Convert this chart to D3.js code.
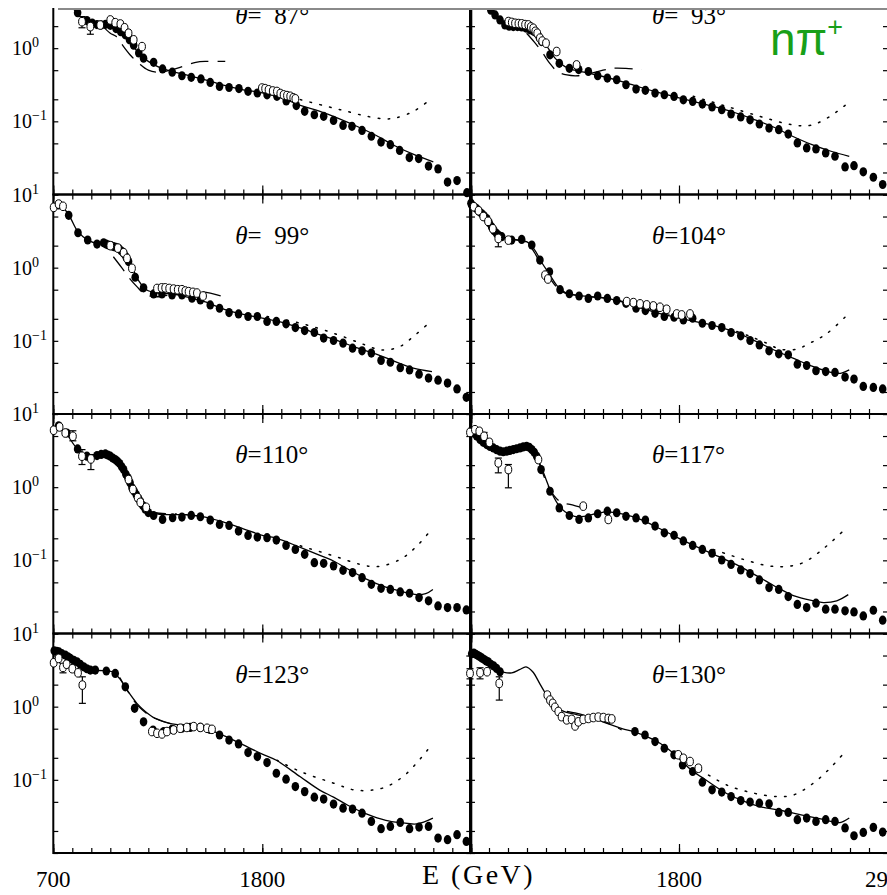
<!DOCTYPE html>
<html>
<head>
<meta charset="utf-8">
<script src="https://cdn.jsdelivr.net/npm/d3@7"></script>
<style>
  html, body { margin: 0; padding: 0; background: #fff; }
  svg { display: block; }
</style>
</head>
<body>
<svg id="chart" width="887" height="895"></svg>
<script>
// Differential cross sections for gamma p -> n pi+ at backward angles,
// eight angular bins, log y scale, photon energy on x.

const angles = [87, 93, 99, 104, 110, 117, 123, 130];
const yTickValues = [0.01, 0.02, 0.05, 0.1, 0.2, 0.5, 1, 2, 5, 10];
const yLabelValues = [10, 1, 0.1];
const yLabelExp = ["1", "0", "\u22121"];
const xMinorTicks = d3.range(700, 2901, 100);
const xMajorTicks = [700, 1800, 2900];
const xLabelsLeft = [700, 1800];
const xLabelsRight = [1800, 2900];

// ---- theta = 87 ----
const filled87 = [[760,5.0],[790,4.0],[828,3.05],[877,2.38],[905,2.2],[930,2.1],[952,2.08],[975,2.12],[1000,2.05],[1030,1.85],[1055,1.68],[1079,1.52],[1101,1.3],[1123,1.1],[1150,0.86],[1175,0.73],[1228,0.64],[1275,0.52],[1326,0.47],[1377,0.42],[1426,0.40],[1477,0.38],[1526,0.34],[1575,0.30],[1625,0.29],[1677,0.28],[1725,0.257],[1774,0.244],[1825,0.23],[1877,0.22],[1926,0.19],[1979,0.164],[2023,0.137],[2074,0.123],[2123,0.117],[2175,0.103],[2225,0.088],[2272,0.0855],[2325,0.075],[2374,0.0625],[2425,0.052],[2474,0.048],[2523,0.040],[2574,0.032],[2623,0.031],[2675,0.0245],[2725,0.0224],[2775,0.0148],[2825,0.0155],[2877,0.0106]];
const open87 = [[851,2.3,1.9,2.7],[895,1.97,1.55,2.3],[947,2.07],[1000,2.43],[1026,2.23],[1053,2.14],[1075,1.9],[1096,1.6],[1123,1.3],[1167,1.05],[1798,0.285],[1815,0.28],[1833,0.27],[1855,0.26],[1877,0.256],[1895,0.24],[1912,0.23],[1930,0.225],[1947,0.22],[1963,0.21],[1974,0.203]];
const solid87 = [[780,4.5],[800,3.6],[850,2.6],[900,2.2],[950,2.05],[1000,1.95],[1050,1.7],[1100,1.25],[1150,0.85],[1200,0.66],[1250,0.56],[1300,0.5],[1400,0.43],[1500,0.37],[1600,0.31],[1700,0.27],[1800,0.245],[1900,0.21],[2000,0.165],[2100,0.138],[2200,0.11],[2300,0.085],[2400,0.064],[2500,0.046],[2600,0.035],[2700,0.028]];
const dashed87 = [[960,2.0],[1000,1.6],[1030,1.45],[1070,1.05],[1110,0.78],[1150,0.62],[1200,0.5],[1260,0.47],[1350,0.53],[1450,0.64],[1510,0.66],[1605,0.66]];
const dotted87 = [[2000,0.198],[2139,0.16],[2245,0.137],[2351,0.117],[2447,0.108],[2500,0.111],[2596,0.137],[2684,0.198]];

// ---- theta = 93 ----
const filled93 = [[770,4.5],[810,3.3],[832,2.85],[858,2.43],[884,2.08],[906,2.0],[928,1.97],[950,1.97],[972,1.95],[995,1.88],[1016,1.78],[1035,1.7],[1051,1.6],[1064,1.42],[1077,1.23],[1121,0.81],[1170,0.62],[1223,0.53],[1272,0.51],[1323,0.48],[1372,0.42],[1423,0.39],[1472,0.37],[1521,0.316],[1574,0.276],[1623,0.265],[1674,0.243],[1723,0.231],[1774,0.219],[1823,0.197],[1872,0.187],[1923,0.172],[1974,0.157],[2025,0.144],[2074,0.126],[2125,0.115],[2174,0.105],[2223,0.092],[2274,0.081],[2325,0.077],[2375,0.067],[2423,0.0507],[2472,0.0433],[2521,0.042],[2572,0.037],[2621,0.0333],[2674,0.0238],[2721,0.0248],[2770,0.0204],[2823,0.0172],[2872,0.0137]];
const open93 = [[902,2.31],[920,2.25],[937,2.19],[955,2.17],[972,2.15],[990,2.1],[1007,2.08],[1020,1.95],[1033,1.87],[1044,1.7],[1054,1.6],[1068,1.37],[1080,1.25],[1100,1.17],[1156,0.9],[1261,0.59]];
const solid93 = [[780,4.2],[810,3.3],[860,2.5],[900,2.15],[950,2.0],[1000,1.85],[1050,1.55],[1100,1.1],[1150,0.72],[1200,0.56],[1250,0.5],[1300,0.47],[1400,0.41],[1500,0.35],[1600,0.29],[1700,0.245],[1800,0.21],[1900,0.18],[2000,0.155],[2100,0.13],[2200,0.105],[2300,0.083],[2400,0.062],[2500,0.048],[2600,0.039],[2696,0.0333]];
const dashed93 = [[998,1.6],[1040,1.2],[1080,0.88],[1120,0.62],[1160,0.48],[1210,0.43],[1270,0.42],[1330,0.45],[1400,0.5],[1450,0.53],[1520,0.53],[1604,0.51]];
const dotted93 = [[1875,0.22],[2051,0.16],[2226,0.117],[2349,0.095],[2437,0.087],[2507,0.09],[2595,0.117],[2679,0.169]];

// ---- theta = 99 ----
const filled99 = [[728,7.2],[781,5.2],[830,3.0],[881,2.39],[930,2.1],[965,2.19],[978,2.1],[990,2.04],[1004,2.0],[1017,1.94],[1030,1.9],[1044,1.84],[1057,1.7],[1070,1.57],[1083,1.4],[1096,1.21],[1131,0.74],[1175,0.53],[1228,0.437],[1272,0.437],[1325,0.424],[1377,0.424],[1430,0.382],[1474,0.362],[1526,0.31],[1575,0.279],[1625,0.243],[1675,0.233],[1725,0.215],[1774,0.215],[1825,0.184],[1874,0.184],[1925,0.171],[1974,0.152],[2023,0.138],[2074,0.13],[2123,0.109],[2175,0.101],[2225,0.093],[2275,0.0794],[2325,0.073],[2374,0.068],[2425,0.054],[2474,0.051],[2526,0.043],[2575,0.040],[2625,0.035],[2675,0.031],[2725,0.029],[2775,0.0265],[2825,0.022],[2874,0.0169]];
const open99 = [[702,6.67],[728,7.4],[751,6.9],[1000,2.0],[1040,1.85],[1070,1.6],[1088,1.34],[1114,0.98],[1246,0.52],[1270,0.53],[1289,0.53],[1310,0.52],[1333,0.51],[1355,0.5],[1377,0.5],[1395,0.48],[1412,0.47],[1435,0.46],[1456,0.45],[1488,0.41]];
const solid99 = [[700,7.0],[730,7.2],[760,6.3],[790,4.8],[830,3.1],[880,2.4],[930,2.15],[980,2.1],[1030,1.95],[1060,1.75],[1090,1.35],[1120,0.95],[1150,0.66],[1190,0.5],[1250,0.45],[1320,0.44],[1400,0.4],[1500,0.34],[1600,0.27],[1700,0.23],[1800,0.205],[1900,0.18],[2000,0.15],[2100,0.122],[2200,0.1],[2300,0.08],[2400,0.066],[2500,0.052],[2600,0.042],[2693,0.038]];
const dashed99 = [[1016,1.41],[1060,1.0],[1100,0.72],[1140,0.55],[1180,0.44],[1230,0.4],[1300,0.42],[1400,0.45],[1480,0.47],[1614,0.39]];
const dotted99 = [[1825,0.215],[2000,0.174],[2175,0.127],[2316,0.093],[2404,0.077],[2456,0.075],[2526,0.084],[2596,0.115],[2666,0.165]];

// ---- theta = 104 ----
const filled104 = [[705,7.6],[709,7.2],[722,6.8],[735,6.4],[748,5.9],[761,5.5],[775,5.1],[788,4.7],[801,4.1],[814,3.6],[827,3.2],[840,2.94],[853,2.75],[867,2.65],[919,2.38],[972,2.43],[1025,2.04],[1068,1.27],[1118,0.88],[1174,0.5],[1223,0.44],[1274,0.41],[1323,0.38],[1372,0.41],[1423,0.38],[1472,0.355],[1521,0.326],[1574,0.279],[1623,0.259],[1674,0.238],[1723,0.215],[1774,0.21],[1823,0.193],[1872,0.204],[1923,0.174],[1974,0.162],[2025,0.152],[2074,0.13],[2125,0.117],[2174,0.101],[2223,0.088],[2274,0.073],[2325,0.0665],[2375,0.0644],[2423,0.048],[2472,0.046],[2521,0.039],[2572,0.038],[2621,0.037],[2674,0.032],[2721,0.030],[2770,0.0238],[2823,0.0231],[2872,0.022]];
const open104 = [[720,6.8],[745,6.0],[770,5.0],[795,4.3],[820,3.4],[849,2.51,1.93,2.94],[902,2.38],[1095,0.79],[1110,0.7],[1525,0.344],[1560,0.333],[1595,0.32],[1630,0.31],[1665,0.30],[1700,0.288],[1735,0.27],[1788,0.233],[1814,0.226],[1858,0.233]];
const solid104 = [[705,7.5],[740,6.3],[780,4.9],[820,3.4],[860,2.7],[900,2.45],[950,2.4],[1000,2.25],[1040,1.75],[1080,1.15],[1120,0.8],[1160,0.56],[1200,0.46],[1260,0.42],[1330,0.4],[1400,0.39],[1500,0.34],[1600,0.28],[1700,0.235],[1800,0.205],[1900,0.18],[2000,0.158],[2100,0.13],[2200,0.1],[2300,0.075],[2400,0.058],[2500,0.045],[2600,0.037],[2650,0.036],[2696,0.040]];
const dashed104 = [[900,2.5],[960,2.35],[1000,2.2],[1040,1.6],[1080,1.02],[1120,0.72],[1160,0.53],[1200,0.45],[1260,0.42],[1350,0.4],[1450,0.37],[1550,0.32],[1650,0.27],[1750,0.23]];
const dotted104 = [[2104,0.134],[2174,0.115],[2261,0.093],[2332,0.077],[2419,0.077],[2489,0.093],[2577,0.125],[2691,0.233]];

// ---- theta = 110 ----
const filled110 = [[728,6.9],[772,5.5],[828,3.33],[877,2.65],[930,2.7],[952,2.8],[974,2.85],[987,2.75],[1000,2.65],[1013,2.5],[1026,2.38],[1038,2.25],[1049,2.1],[1060,1.9],[1070,1.74],[1082,1.5],[1093,1.34],[1104,1.15],[1114,0.98],[1126,0.88],[1137,0.79],[1148,0.7],[1158,0.64],[1171,0.56],[1184,0.5],[1200,0.45],[1228,0.41],[1275,0.362],[1328,0.382],[1377,0.39],[1426,0.411],[1474,0.394],[1526,0.355],[1575,0.31],[1625,0.30],[1675,0.251],[1725,0.219],[1774,0.208],[1825,0.204],[1874,0.189],[1925,0.16],[1974,0.141],[2023,0.121],[2074,0.093],[2123,0.091],[2175,0.084],[2225,0.073],[2275,0.068],[2325,0.058],[2374,0.047],[2425,0.0415],[2474,0.040],[2526,0.037],[2575,0.0355],[2625,0.031],[2675,0.028],[2725,0.0238],[2775,0.0226],[2825,0.0226],[2874,0.021]];
const open110 = [[702,6.0],[733,6.65],[763,5.5],[803,4.96,4.3,5.9],[851,2.65,2.04,3.26],[898,2.43,1.74,2.79],[1096,1.27],[1119,0.93],[1144,0.72],[1158,0.62],[1189,0.53]];
const solid110 = [[700,6.3],[730,6.6],[770,5.3],[820,3.5],[870,2.8],[930,2.75],[980,2.8],[1020,2.45],[1050,2.05],[1080,1.5],[1110,1.05],[1140,0.76],[1170,0.57],[1200,0.47],[1250,0.43],[1320,0.42],[1400,0.42],[1500,0.39],[1600,0.33],[1700,0.27],[1800,0.22],[1877,0.2],[2000,0.15],[2100,0.118],[2175,0.098],[2250,0.076],[2351,0.055],[2450,0.043],[2526,0.038],[2614,0.034],[2660,0.035],[2698,0.040]];
const dashed110 = [[1050,2.0],[1100,1.15],[1150,0.66],[1200,0.48],[1260,0.44],[1350,0.43]];
const dotted110 = [[2000,0.158],[2175,0.115],[2316,0.088],[2404,0.082],[2526,0.103],[2614,0.157],[2693,0.27]];

// ---- theta = 117 ----
const filled117 = [[705,5.8],[718,5.5],[735,5.0],[753,4.47],[770,4.1],[788,3.82],[805,3.6],[823,3.44],[840,3.25],[858,3.1],[875,3.05],[893,3.1],[910,3.18],[928,3.26],[945,3.35],[963,3.44],[980,3.55],[998,3.62],[1012,3.5],[1025,3.26],[1038,3.0],[1051,2.65],[1074,1.74],[1121,0.88],[1170,0.52],[1223,0.41],[1274,0.362],[1323,0.38],[1372,0.433],[1423,0.47],[1472,0.447],[1521,0.40],[1574,0.38],[1623,0.355],[1674,0.294],[1723,0.238],[1774,0.22],[1823,0.184],[1872,0.16],[1923,0.141],[1974,0.125],[2025,0.101],[2074,0.088],[2125,0.074],[2174,0.066],[2223,0.054],[2274,0.0424],[2325,0.040],[2375,0.032],[2423,0.025],[2472,0.0226],[2521,0.026],[2572,0.0215],[2621,0.0215],[2674,0.0204],[2721,0.0197],[2770,0.0174],[2823,0.0208],[2872,0.0152]];
const open117 = [[700,5.6],[726,6.1],[749,5.8],[774,4.96,4.5,5.6],[802,4.1],[849,2.15,1.57,2.5],[902,1.74,0.98,2.04],[1060,2.38],[1296,0.55],[1428,0.362]];
const solid117 = [[710,5.8],[760,4.6],[800,3.7],[850,3.15],[900,3.0],[950,3.2],[1000,3.4],[1030,3.1],[1060,2.3],[1090,1.5],[1120,0.95],[1160,0.6],[1200,0.46],[1250,0.4],[1300,0.4],[1370,0.44],[1420,0.46],[1500,0.43],[1600,0.36],[1700,0.27],[1800,0.2],[1900,0.15],[2000,0.115],[2100,0.088],[2226,0.058],[2300,0.045],[2402,0.033],[2507,0.028],[2560,0.0265],[2630,0.028],[2691,0.034]];
const dashed117 = [[1060,2.3],[1100,1.2],[1140,0.78],[1180,0.62],[1226,0.58],[1305,0.51]];
const dotted117 = [[1981,0.141],[2139,0.103],[2261,0.085],[2349,0.082],[2454,0.093],[2577,0.157],[2682,0.279]];

// ---- theta = 123 ----
const filled123 = [[705,5.8],[718,5.7],[730,5.6],[745,5.3],[763,5.07],[777,4.8],[790,4.57],[808,4.3],[825,4.1],[842,3.8],[860,3.5],[877,3.3],[895,3.16],[921,3.16],[979,3.07],[1026,2.85],[1079,1.87],[1128,0.95],[1175,0.62],[1225,0.48],[1281,0.457],[1325,0.49],[1377,0.507],[1421,0.52],[1474,0.52],[1523,0.49],[1575,0.41],[1625,0.35],[1675,0.31],[1725,0.236],[1774,0.208],[1825,0.172],[1874,0.123],[1925,0.102],[1974,0.081],[2023,0.069],[2074,0.058],[2123,0.0545],[2175,0.0466],[2225,0.041],[2275,0.0398],[2325,0.035],[2374,0.027],[2425,0.0215],[2474,0.0231],[2526,0.0262],[2575,0.0215],[2625,0.0226],[2675,0.0231],[2725,0.016],[2775,0.0152],[2825,0.0178],[2874,0.0144]];
const open123 = [[702,3.98],[728,4.57],[751,3.44,2.9,3.9],[770,3.8],[800,3.3],[830,2.9],[853,1.97,1.11,2.56],[1219,0.457],[1246,0.433],[1272,0.424],[1298,0.457],[1333,0.48],[1368,0.507],[1403,0.52],[1439,0.534],[1474,0.52],[1509,0.507],[1535,0.49]];
const solid123 = [[700,5.8],[740,5.0],[790,4.4],[840,3.7],[900,3.2],[960,3.1],[1010,3.0],[1050,2.4],[1088,1.69],[1140,1.11],[1184,0.86],[1237,0.69],[1325,0.58],[1400,0.55],[1500,0.5],[1600,0.4],[1700,0.3],[1800,0.225],[1874,0.185],[2000,0.11],[2100,0.073],[2175,0.058],[2250,0.045],[2351,0.034],[2450,0.028],[2530,0.026],[2614,0.025],[2698,0.030]];
const dashed123 = [[1050,2.5],[1100,1.5],[1150,1.0],[1200,0.78],[1237,0.69],[1325,0.58],[1400,0.55]];
const dotted123 = [[1877,0.185],[2000,0.13],[2175,0.09],[2281,0.073],[2368,0.072],[2456,0.081],[2561,0.123],[2684,0.285]];

// ---- theta = 130 ----
const filled130 = [[709,5.3],[720,5.4],[731,5.2],[742,5.0],[753,4.8],[764,4.6],[775,4.4],[786,4.2],[796,4.1],[810,3.8],[825,3.6],[840,3.33],[858,3.0],[1568,0.456],[1621,0.41],[1674,0.333],[1723,0.27],[1774,0.22],[1819,0.16],[1872,0.13],[1923,0.093],[1974,0.073],[2025,0.068],[2074,0.059],[2125,0.052],[2174,0.0496],[2223,0.048],[2274,0.047],[2325,0.0359],[2375,0.0359],[2423,0.0285],[2472,0.030],[2521,0.027],[2572,0.0285],[2621,0.027],[2674,0.022],[2721,0.0172],[2770,0.0191],[2823,0.0224],[2872,0.0193]];
const open130 = [[700,2.85,2.4,3.3],[753,2.91,2.4,3.4],[790,3.0],[854,2.08,1.23,2.56],[1107,1.44],[1121,1.23],[1135,1.11],[1147,0.98],[1165,0.86],[1182,0.73],[1209,0.66],[1235,0.67],[1253,0.545],[1270,0.62],[1296,0.67],[1323,0.69],[1349,0.71],[1375,0.72],[1402,0.71],[1428,0.69],[1446,0.68],[1796,0.22],[1823,0.197],[1858,0.178],[1902,0.144]];
const solid130 = [[720,5.3],[780,4.4],[840,3.3],[880,2.95],[920,2.9],[960,3.2],[995,3.5],[1030,3.0],[1070,2.0],[1110,1.35],[1150,1.0],[1200,0.85],[1260,0.78],[1330,0.72],[1400,0.62],[1500,0.5],[1560,0.456],[1630,0.39],[1700,0.316],[1780,0.22],[1860,0.14],[1940,0.1],[2051,0.065],[2150,0.05],[2226,0.043],[2320,0.039],[2402,0.035],[2500,0.031],[2577,0.028],[2647,0.026],[2696,0.030]];
const dashed130 = [[1100,1.45],[1150,1.05],[1200,0.88],[1253,0.82],[1350,0.7],[1450,0.56],[1498,0.48]];
const dotted130 = [[1911,0.137],[2051,0.085],[2191,0.066],[2314,0.059],[2402,0.062],[2507,0.09],[2595,0.144],[2682,0.256]];

const panels = [
  { theta: 87,  col: 0, row: 0, filled: filled87,  open: open87,  solid: solid87,  dashed: dashed87,  dotted: dotted87 },
  { theta: 93,  col: 1, row: 0, filled: filled93,  open: open93,  solid: solid93,  dashed: dashed93,  dotted: dotted93 },
  { theta: 99,  col: 0, row: 1, filled: filled99,  open: open99,  solid: solid99,  dashed: dashed99,  dotted: dotted99 },
  { theta: 104, col: 1, row: 1, filled: filled104, open: open104, solid: solid104, dashed: dashed104, dotted: dotted104 },
  { theta: 110, col: 0, row: 2, filled: filled110, open: open110, solid: solid110, dashed: dashed110, dotted: dotted110 },
  { theta: 117, col: 1, row: 2, filled: filled117, open: open117, solid: solid117, dashed: dashed117, dotted: dotted117 },
  { theta: 123, col: 0, row: 3, filled: filled123, open: open123, solid: solid123, dashed: dashed123, dotted: dotted123 },
  { theta: 130, col: 1, row: 3, filled: filled130, open: open130, solid: solid130, dashed: dashed130, dotted: dotted130 }
];

// ---- layout ----
const colX = [53.3, 470];
const plotW = 418;
const rowTop0 = -25;
const plotH = 219.5;
const serif = "'Liberation Serif', 'DejaVu Serif', serif";

const svg = d3.select("#chart");
const gAxes = svg.append("g");
const gData = svg.append("g");

panels.forEach(p => {
  const x0 = colX[p.col];
  const top = rowTop0 + p.row * plotH;
  const x = d3.scaleLinear().domain([700, 2900]).range([x0, x0 + plotW]);
  const y = d3.scaleLog().domain([0.01, 10]).range([top + plotH, top]);

  // ticks (inward) on all four sides
  const tickStyle = g => {
    g.select(".domain").remove();
    g.selectAll("line").attr("stroke", "#000").attr("stroke-width", 1.2);
  };
  gAxes.append("g").attr("transform", `translate(${x0},0)`)
    .call(d3.axisRight(y).tickValues(yTickValues).tickSize(5).tickFormat("")).call(tickStyle);
  gAxes.append("g").attr("transform", `translate(${x0 + plotW},0)`)
    .call(d3.axisLeft(y).tickValues(yTickValues).tickSize(5).tickFormat("")).call(tickStyle);
  [[d3.axisTop, top + plotH], [d3.axisBottom, top]].forEach(([axisFn, yy]) => {
    gAxes.append("g").attr("transform", `translate(0,${yy})`)
      .call(axisFn(x).tickValues(xMinorTicks).tickSize(5).tickFormat("")).call(tickStyle);
    gAxes.append("g").attr("transform", `translate(0,${yy})`)
      .call(axisFn(x).tickValues(xMajorTicks).tickSize(9).tickFormat("")).call(tickStyle);
  });

  // frame
  gAxes.append("rect")
    .attr("x", x0).attr("y", top).attr("width", plotW).attr("height", plotH)
    .attr("fill", "none").attr("stroke", "#000").attr("stroke-width", 2);

  // y tick labels on the left column (the top row's upper decade lies above the trimmed edge)
  if (p.col === 0) {
    yLabelValues.forEach((v, i) => {
      if (y(v) < 10) return;
      const t = gAxes.append("text")
        .attr("x", 12).attr("y", y(v) + 7)
        .attr("font-family", serif).attr("font-size", 20).attr("fill", "#000")
        .text("10");
      t.append("tspan").attr("dy", -8).attr("font-size", 14).text(yLabelExp[i]);
    });
  }

  // model curves
  const line = d3.line().x(d => x(d[0])).y(d => y(d[1])).curve(d3.curveCatmullRom.alpha(0.5));
  gData.append("path").datum(p.dotted).attr("d", line)
    .attr("fill", "none").attr("stroke", "#000").attr("stroke-width", 1.5)
    .attr("stroke-dasharray", "1.6,8.4").attr("stroke-linecap", "round");
  gData.append("path").datum(p.dashed).attr("d", line)
    .attr("fill", "none").attr("stroke", "#000").attr("stroke-width", 1.3)
    .attr("stroke-dasharray", "18,9");
  gData.append("path").datum(p.solid).attr("d", line)
    .attr("fill", "none").attr("stroke", "#000").attr("stroke-width", 1.3);

  // filled points
  gData.append("g").selectAll("ellipse").data(p.filled).join("ellipse")
    .attr("cx", d => x(d[0])).attr("cy", d => y(d[1]))
    .attr("rx", 3.8).attr("ry", 4.6).attr("fill", "#000");

  // open points with error bars
  const withErr = p.open.filter(d => d.length === 4);
  const eb = gData.append("g").attr("stroke", "#000").attr("stroke-width", 1.2);
  eb.selectAll("line.v").data(withErr).join("line").attr("class", "v")
    .attr("x1", d => x(d[0])).attr("x2", d => x(d[0]))
    .attr("y1", d => y(d[2])).attr("y2", d => y(d[3]));
  eb.selectAll("line.lo").data(withErr).join("line").attr("class", "lo")
    .attr("x1", d => x(d[0]) - 3.5).attr("x2", d => x(d[0]) + 3.5)
    .attr("y1", d => y(d[2])).attr("y2", d => y(d[2]));
  eb.selectAll("line.hi").data(withErr).join("line").attr("class", "hi")
    .attr("x1", d => x(d[0]) - 3.5).attr("x2", d => x(d[0]) + 3.5)
    .attr("y1", d => y(d[3])).attr("y2", d => y(d[3]));
  gData.append("g").selectAll("ellipse").data(p.open).join("ellipse")
    .attr("cx", d => x(d[0])).attr("cy", d => y(d[1]))
    .attr("rx", 3.4).attr("ry", 4.3)
    .attr("fill", "#fff").attr("stroke", "#000").attr("stroke-width", 1);

  // angle label
  const lab = gData.append("text")
    .attr("x", x0 + 182).attr("y", top + 49)
    .attr("font-family", serif).attr("font-size", 25).attr("fill", "#000");
  lab.append("tspan").attr("font-style", "italic").text("\u03b8");
  lab.append("tspan").text("=" + (p.theta < 100 ? "\u2007" : "") + p.theta + "\u00b0");
});

// x tick labels
const xl = d3.scaleLinear().domain([700, 2900]).range([colX[0], colX[0] + plotW]);
const xr = d3.scaleLinear().domain([700, 2900]).range([colX[1], colX[1] + plotW]);
const bottom = rowTop0 + 4 * plotH;
xLabelsLeft.forEach(v => svg.append("text").attr("x", xl(v)).attr("y", bottom + 34)
  .attr("text-anchor", "middle").attr("font-family", serif).attr("font-size", 23).text(v));
xLabelsRight.forEach(v => svg.append("text").attr("x", xr(v)).attr("y", bottom + 34)
  .attr("text-anchor", "middle").attr("font-family", serif).attr("font-size", 23).text(v));

// axis title
svg.append("text").attr("x", 422).attr("y", bottom + 31)
  .attr("font-family", serif).attr("font-size", 28).attr("letter-spacing", 2.5)
  .text("E (GeV)");

// the upper edge of the figure is trimmed
svg.append("rect").attr("x", 0).attr("y", 0).attr("width", 887).attr("height", 8).attr("fill", "#fff");
svg.append("line").attr("x1", 58).attr("x2", 887).attr("y1", 9).attr("y2", 9)
  .attr("stroke", "#8a8a8a").attr("stroke-width", 2);

// reaction label
const rl = svg.append("text").attr("x", 770).attr("y", 55)
  .attr("font-family", "'Liberation Sans', Arial, sans-serif").attr("font-size", 46)
  .attr("fill", "#18a018").text("n\u03c0");
rl.append("tspan").attr("dy", -19).attr("font-size", 27).text("+");
</script>
</body>
</html>
